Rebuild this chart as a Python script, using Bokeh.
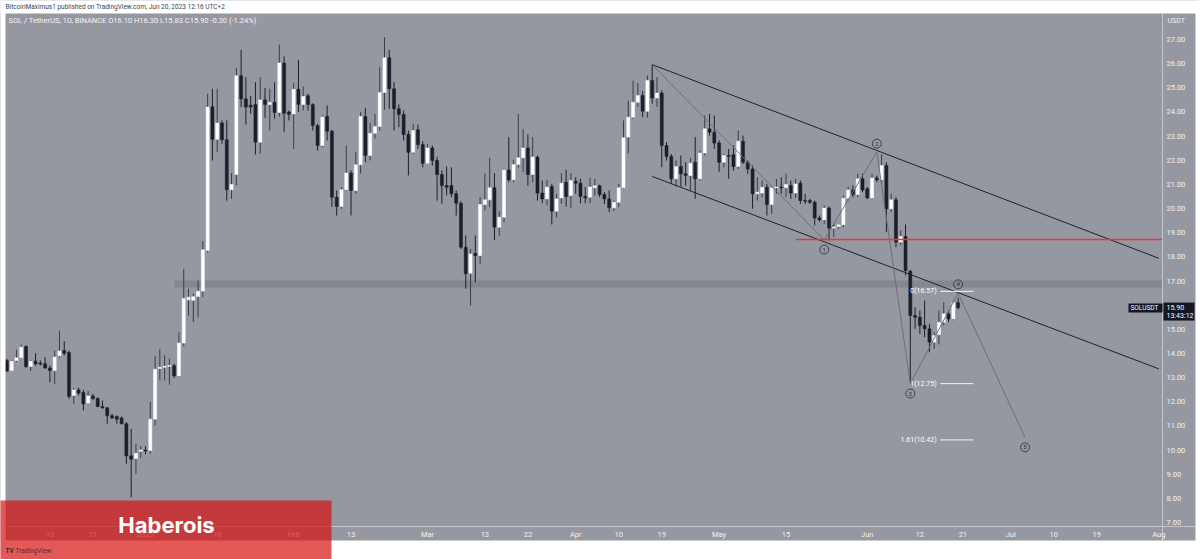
import pandas as pd
from bokeh.plotting import figure
from bokeh.models import ColumnDataSource, FixedTicker, NumeralTickFormatter, BoxAnnotation, Label, Range1d
from bokeh.core.properties import value
from bokeh.embed import file_html
from bokeh.resources import INLINE

# ---------------- data (SOL/USDT daily) ----------------
start_date = "2022-12-03"
opens = [13.71, 13.29, 13.71, 13.82, 14.29, 13.46, 13.68, 13.60, 13.57, 13.40,
         13.29, 13.90, 14.12, 14.04, 12.26, 12.49, 12.38, 11.94, 12.24, 12.13,
         11.80, 11.75, 11.42, 11.39, 11.33, 11.09, 9.76, 9.65, 9.95, 10.00,
         9.98, 11.28, 13.38, 13.43, 13.47, 13.49, 13.07, 14.43, 16.22, 16.20,
         16.36, 16.58, 18.26, 24.22, 22.87, 23.54, 22.85, 20.78, 21.41, 25.50,
         24.54, 24.28, 24.31, 22.75, 24.50, 24.31, 24.40, 23.98, 26.03, 24.00,
         23.92, 24.94, 24.31, 24.67, 24.31, 23.44, 22.61, 23.81, 23.20, 20.47,
         20.09, 20.78, 21.47, 20.75, 21.81, 23.81, 22.20, 23.12, 23.40, 24.81,
         26.24, 24.96, 24.13, 23.89, 23.07, 22.33, 23.26, 22.65, 21.88, 22.51,
         21.99, 21.41, 20.95, 20.95, 20.61, 20.22, 18.40, 17.32, 18.15, 18.05,
         20.17, 20.36, 20.86, 19.23, 19.64, 21.60, 21.19, 21.82, 22.10, 22.51,
         21.41, 22.13, 20.64, 20.40, 20.91, 19.89, 20.44, 21.09, 20.54, 21.13,
         21.05, 20.50, 20.47, 20.86, 20.94, 20.58, 20.40, 20.03, 20.26, 20.86,
         22.96, 23.78, 24.40, 24.68, 24.03, 25.30, 24.58, 24.78, 22.61, 22.16,
         21.23, 21.74, 21.44, 21.37, 21.92, 21.23, 22.30, 23.30, 23.16, 22.71,
         21.92, 22.20, 22.23, 21.74, 22.79, 21.92, 21.64, 20.61, 20.64, 20.88,
         20.17, 20.86, 20.89, 20.86, 20.95, 20.64, 21.05, 20.33, 20.33, 20.26,
         19.61, 19.53, 20.02, 19.19, 19.26, 19.33, 20.43, 20.77, 20.58, 21.23,
         20.82, 20.44, 21.27, 21.19, 21.78, 19.99, 20.36, 18.61, 18.84, 17.41,
         15.57, 15.50, 15.16, 15.02, 14.47, 14.78, 15.29, 15.64, 15.43, 16.10]
highs = [13.78, 13.74, 14.15, 14.37, 14.33, 13.74, 14.01, 13.71, 13.85, 13.50,
         14.12, 14.95, 14.51, 14.12, 12.58, 12.58, 12.49, 12.44, 12.33, 12.19,
         12.05, 11.78, 11.50, 11.43, 11.39, 11.16, 10.88, 10.26, 10.17, 10.15,
         11.99, 13.90, 14.19, 13.92, 13.78, 13.57, 14.88, 17.50, 16.68, 16.47,
         17.02, 18.65, 24.75, 24.96, 24.96, 23.65, 23.65, 21.47, 25.83, 26.57,
         25.44, 24.67, 25.23, 25.44, 25.00, 24.96, 25.23, 26.79, 26.30, 24.06,
         25.19, 26.16, 25.05, 24.75, 24.36, 23.51, 23.85, 24.27, 23.26, 20.75,
         20.89, 22.61, 21.58, 22.33, 23.99, 24.17, 23.54, 23.92, 25.85, 27.10,
         26.57, 25.23, 24.31, 24.06, 23.23, 23.51, 23.48, 22.79, 22.68, 22.61,
         22.15, 21.58, 21.74, 21.71, 20.75, 20.30, 18.88, 18.33, 18.88, 20.47,
         21.44, 22.10, 21.47, 19.89, 21.64, 22.96, 22.02, 23.92, 23.30, 23.07,
         22.96, 22.20, 21.16, 21.19, 21.02, 20.61, 21.47, 21.60, 21.47, 21.30,
         21.23, 20.89, 21.27, 21.23, 20.99, 20.68, 20.75, 20.33, 21.02, 23.65,
         24.47, 25.30, 25.20, 24.86, 25.51, 25.96, 25.44, 24.89, 22.75, 22.26,
         21.99, 22.20, 21.92, 22.10, 22.96, 22.40, 23.85, 23.92, 23.85, 22.82,
         22.26, 22.47, 22.61, 23.23, 23.02, 21.99, 21.78, 21.30, 21.16, 21.02,
         20.95, 21.23, 21.30, 21.44, 21.16, 21.23, 21.16, 20.61, 20.40, 20.33,
         19.71, 20.13, 20.09, 19.37, 19.37, 20.54, 20.91, 20.95, 21.44, 21.44,
         20.89, 21.44, 21.37, 22.24, 21.92, 20.61, 20.47, 19.09, 19.34, 17.45,
         15.91, 15.78, 16.19, 15.23, 14.88, 15.78, 16.12, 15.78, 16.19, 16.30]
lows = [13.23, 13.27, 13.64, 13.78, 13.40, 13.27, 13.50, 13.50, 13.36, 12.81,
        12.74, 13.82, 13.92, 12.12, 11.91, 12.26, 11.64, 11.89, 12.08, 11.78,
        11.71, 11.09, 11.28, 11.09, 11.06, 9.43, 8.05, 9.02, 9.68, 9.82,
        9.84, 11.02, 12.88, 12.88, 12.71, 12.99, 13.02, 14.30, 15.57, 15.30,
        15.50, 16.33, 18.19, 21.99, 22.34, 22.68, 20.33, 20.40, 20.96, 24.20,
        23.48, 23.92, 22.24, 22.27, 23.76, 23.23, 23.72, 23.81, 23.16, 23.65,
        22.47, 23.99, 24.06, 24.06, 23.23, 22.40, 22.54, 22.82, 20.06, 19.71,
        19.99, 20.75, 19.71, 20.61, 21.44, 21.92, 21.99, 22.89, 23.23, 24.09,
        24.13, 23.23, 23.37, 22.82, 21.37, 22.27, 22.47, 21.71, 21.85, 21.78,
        20.33, 20.20, 20.54, 20.47, 19.71, 18.33, 16.68, 15.98, 16.95, 17.71,
        19.92, 20.06, 18.70, 18.88, 19.44, 21.09, 21.09, 21.69, 21.51, 20.95,
        21.09, 20.33, 20.22, 20.13, 19.34, 19.64, 20.19, 20.08, 20.03, 20.61,
        20.22, 20.22, 20.22, 20.54, 20.47, 20.19, 19.85, 19.89, 20.06, 20.82,
        22.29, 23.71, 24.20, 23.78, 23.76, 24.34, 24.20, 21.71, 21.99, 21.02,
        20.91, 20.91, 20.95, 20.75, 20.40, 21.16, 22.20, 23.02, 22.47, 21.51,
        21.71, 21.23, 21.57, 21.64, 21.85, 21.44, 19.99, 20.33, 20.47, 19.71,
        19.78, 20.61, 20.61, 20.47, 20.40, 20.44, 20.19, 20.19, 20.19, 19.30,
        19.47, 19.37, 18.68, 18.82, 19.16, 19.23, 20.33, 20.47, 20.47, 20.68,
        20.40, 20.40, 21.09, 21.09, 19.02, 19.85, 18.40, 18.47, 17.23, 12.81,
        15.02, 14.81, 14.67, 14.05, 14.19, 14.37, 15.16, 15.30, 15.37, 15.83]
closes = [13.27, 13.68, 13.82, 14.26, 13.46, 13.68, 13.57, 13.56, 13.40, 13.29,
          13.85, 14.10, 14.01, 12.22, 12.49, 12.36, 11.91, 12.24, 12.13, 11.80,
          11.75, 11.42, 11.33, 11.28, 11.09, 9.76, 9.62, 9.87, 10.00, 9.96,
          11.28, 13.35, 13.43, 13.47, 13.50, 13.07, 14.43, 16.28, 16.33, 16.35,
          16.58, 18.29, 24.20, 22.87, 23.54, 22.85, 20.78, 21.00, 25.50, 24.54,
          24.20, 24.20, 22.75, 24.50, 24.31, 24.40, 23.98, 26.03, 23.95, 23.90,
          24.94, 24.31, 24.64, 24.31, 23.44, 22.61, 23.79, 23.20, 20.47, 20.09,
          20.78, 21.47, 20.75, 21.81, 23.81, 22.20, 23.12, 23.40, 24.81, 26.24,
          24.96, 24.13, 23.89, 23.07, 22.33, 23.23, 22.65, 21.88, 22.51, 21.99,
          21.41, 20.95, 20.88, 20.61, 20.22, 18.40, 17.30, 18.12, 18.05, 20.17,
          20.36, 20.86, 19.23, 19.64, 21.60, 21.19, 21.82, 22.10, 22.51, 21.41,
          22.13, 20.64, 20.40, 20.89, 19.89, 20.40, 21.05, 20.50, 21.16, 21.05,
          20.50, 20.44, 20.89, 20.94, 20.58, 20.40, 20.03, 20.26, 20.86, 22.93,
          23.78, 24.40, 24.68, 24.03, 25.30, 24.58, 24.78, 22.61, 22.16, 21.23,
          21.74, 21.44, 21.37, 21.88, 21.23, 22.30, 23.30, 23.16, 22.71, 21.92,
          22.20, 22.16, 21.74, 22.79, 21.92, 21.64, 20.61, 20.68, 20.88, 20.17,
          20.86, 20.89, 20.86, 21.00, 20.64, 21.02, 20.33, 20.30, 20.26, 19.61,
          19.53, 20.02, 19.19, 19.24, 19.33, 20.43, 20.77, 20.58, 21.23, 20.77,
          20.44, 21.26, 21.19, 21.78, 19.99, 20.36, 18.61, 18.84, 17.43, 15.57,
          15.50, 15.16, 15.02, 14.47, 14.74, 15.29, 15.64, 15.43, 16.10, 15.90]

x_tick_dates = ["2022-12-12", "2022-12-21", "2023-01-01", "2023-01-16", "2023-02-01",
                "2023-02-13", "2023-03-01", "2023-03-13", "2023-03-22", "2023-04-01",
                "2023-04-10", "2023-04-19", "2023-05-01", "2023-05-15", "2023-06-01",
                "2023-06-12", "2023-06-21", "2023-07-01", "2023-07-10", "2023-07-19",
                "2023-08-01"]
x_tick_labels = ["12", "21", "2023", "16", "Feb", "13", "Mar", "13", "22", "Apr",
                 "10", "19", "May", "15", "Jun", "12", "21", "Jul", "10", "19", "Aug"]
price_ticks = [7, 8, 9, 10, 11, 12, 13, 14, 15, 16, 17, 18, 19, 20, 21, 22, 23, 24, 25, 26, 27]

# drawing annotations (Elliott wave, channel, levels)
wave_dates = ["2023-04-17", "2023-05-23", "2023-06-03", "2023-06-10", "2023-06-20", "2023-07-04"]
wave_prices = [25.96, 18.70, 22.35, 12.75, 16.50, 10.52]
wave_labels = ["1", "2", "3", "4", "5"]
wave_label_prices = [18.30, 22.69, 12.34, 16.86, 10.11]
channel_dates = ["2023-04-17", "2023-08-01"]
channel_upper = [25.96, 17.94]
channel_lower = [21.33, 13.36]
resistance_price = 18.72
resistance_from = "2023-05-17"
zone_low, zone_high = 16.73, 17.02
zone_from = "2023-01-07"
fib_prices = [16.57, 12.75, 10.42]
fib_labels = ["0(16.57)", "1(12.75)", "1.61(10.42)"]
fib_from, fib_to = "2023-06-16", "2023-06-23"

# ---------------- layout helpers ----------------
EPOCH = pd.Timestamp("2023-01-01")
def day(d):
    return (pd.Timestamp(d) - EPOCH).days

W, H = 1200, 559
DAY_PX, PRICE_PX = 4.78, 24.15
X0 = -145 / DAY_PX                  # canvas x=0  (days since 2023-01-01)
X1 = X0 + W / DAY_PX
Y1 = 27 + 39 / PRICE_PX             # canvas y=0
Y0 = Y1 - H / PRICE_PX
def ix(pix):                        # canvas px -> data
    return X0 + pix / DAY_PX
def iy(pix):
    return Y1 - pix / PRICE_PX

PANE_R, PANE_B = 1162, 526          # edges of the price pane
XE = ix(PANE_R)

dates = pd.date_range(start_date, periods=len(opens), freq="D")
days = [(d - EPOCH).days for d in dates]
inc = [c >= o for o, c in zip(opens, closes)]
src = ColumnDataSource(dict(
    x=days, o=opens, h=highs, l=lows, c=closes,
    top=[max(o, c) for o, c in zip(opens, closes)],
    bottom=[min(o, c) for o, c in zip(opens, closes)],
    body=["#ffffff" if u else "#1c1f2a" for u in inc],
    wick=["#3a3d47" if u else "#1c1f2a" for u in inc],
))

BG = "#9598a1"
p = figure(width=W, height=H, x_range=Range1d(X0, X1), y_range=Range1d(Y0, Y1),
           y_axis_location="right", output_backend="svg", toolbar_location=None,
           min_border=0, background_fill_color=BG, border_fill_color=BG, outline_line_color=None)
p.grid.visible = False

# axes drawn at fixed locations (the pane edges)
ax = p.xaxis[0]
tick_days = [day(d) for d in x_tick_dates]
ax.ticker = FixedTicker(ticks=tick_days)
ax.major_label_overrides = {t: l for t, l in zip(tick_days, x_tick_labels)}
ax.fixed_location = iy(PANE_B)
ay = p.yaxis[0]
ay.ticker = FixedTicker(ticks=price_ticks)
ay.formatter = NumeralTickFormatter(format="0.00")
ay.fixed_location = XE
for a in (ax, ay):
    a.major_tick_line_color = None
    a.minor_tick_line_color = None
    a.major_tick_in = 0
    a.major_tick_out = 0
    a.axis_line_color = None
    a.major_label_text_color = "#f2f2f2"
    a.major_label_text_font = "Roboto"
    a.major_label_text_font_size = "7.5px"
ax.major_label_standoff = 3
ay.major_label_standoff = 4

# support zone
p.quad(left=day(zone_from), right=XE, bottom=zone_low, top=zone_high,
       fill_color="#50535e", fill_alpha=0.25, line_color=None)

# candles
p.segment(x0="x", y0="l", x1="x", y1="h", source=src, line_color="wick", line_width=1)
p.vbar(x="x", width=0.64, top="top", bottom="bottom", source=src,
       fill_color="body", line_color="body", line_width=0.5)

# channel
cx = [day(d) for d in channel_dates]
p.line(cx, channel_upper, line_color="#1e222d", line_width=1)
p.line(cx, channel_lower, line_color="#1e222d", line_width=1)

# resistance
p.segment(x0=[day(resistance_from)], y0=[resistance_price], x1=[XE], y1=[resistance_price],
          line_color="#f2303a", line_width=1.5)

# wave path
wx = [day(d) for d in wave_dates]
p.line(wx, wave_prices, line_color="#6c6f79", line_width=1)
p.scatter(wx[1:], wave_label_prices, marker="circle", size=9, fill_color=None,
          line_color="#3c3f49", line_width=1)
p.text(wx[1:], wave_label_prices, text=wave_labels, text_align="center", text_baseline="middle",
       text_font_size="6px", text_color="#2a2d36", text_font=value("Roboto"))

# fib levels
fx0, fx1 = day(fib_from) + 0.3, day(fib_to) + 0.2
p.segment(x0=[fx0] * 3, y0=fib_prices, x1=[fx1] * 3, y1=fib_prices, line_color="#f4f4f4", line_width=1)
p.text([fx0 - 0.8] * 3, fib_prices, text=fib_labels, text_align="right", text_baseline="middle",
       text_font_size="7px", text_color="#ffffff", text_font=value("Roboto"))

# pane separators
p.segment(x0=[XE, ix(5)], y0=[iy(13), iy(PANE_B)], x1=[XE, ix(1195)], y1=[iy(540), iy(PANE_B)],
          line_color="#c4c6cc", line_width=1)

# white page around the chart
def box(l, r, t, b, color, alpha=1.0):
    p.add_layout(BoxAnnotation(left=ix(l), right=ix(r), top=iy(t), bottom=iy(b),
                               fill_color=color, fill_alpha=alpha, line_color=None))
box(-2, W + 2, -2, 13, "white")
box(-2, 5, -2, H + 2, "white")
box(1195, W + 2, -2, H + 2, "white")
box(-2, W + 2, 540, H + 2, "white")

def label(x, y, text, size, color, **kw):
    p.add_layout(Label(x=ix(x), y=iy(y), text=text, text_font_size=size, text_color=color,
                       text_font=kw.pop("font", "Roboto"), **kw))

label(5, 6.5, "BitcoinMaximus1 published on TradingView.com, Jun 20, 2023 12:16 UTC+2",
      "6.5px", "#3c3f4a", text_baseline="middle")
last = closes[-1]
chg = last - closes[-2]
label(8, 20, "SOL / TetherUS, 1D, BINANCE  O%.2f  H%.2f  L%.2f  C%.2f  %+.2f (%+.2f%%)" % (
      opens[-1], highs[-1], lows[-1], last, chg, chg / closes[-2] * 100),
      "7.5px", "#f4f4f4", text_baseline="middle")
label(1167, 20, "USDT", "7px", "#f2f2f2", text_baseline="middle")

# last price markers
p.add_layout(BoxAnnotation(left=ix(1128), right=XE, top=last + 4 / PRICE_PX, bottom=last - 5 / PRICE_PX,
                           fill_color="#131722", fill_alpha=1, line_color=None))
p.add_layout(Label(x=ix(1130), y=last, text="SOLUSDT", text_font_size="6.5px", text_color="#ffffff",
                   text_baseline="middle", text_font="Roboto"))
p.add_layout(BoxAnnotation(left=ix(PANE_R + 1), right=ix(1194), top=last + 5 / PRICE_PX,
                           bottom=last - 13 / PRICE_PX, fill_color="#131722", fill_alpha=1, line_color=None))
p.add_layout(Label(x=ix(1166), y=last, text="%.2f" % last, text_font_size="7px", text_color="#ffffff",
                   text_baseline="middle", text_font="Roboto"))
p.add_layout(Label(x=ix(1166), y=last - 8 / PRICE_PX, text="13:43:12", text_font_size="7px",
                   text_color="#ffffff", text_baseline="middle", text_font="Roboto"))

# watermark
box(-2, 331, 500, H + 2, "#d81211", 0.7)
label(166, 524.5, "Haberois", "22px", "#ffffff", text_align="center", text_baseline="middle",
      text_font_style="bold", font="Inter")
label(5, 550, "TV", "6.5px", "#4a2326", text_baseline="middle", text_font_style="bold")
label(15, 550, "TradingView", "6.5px", "#5a2a2e", text_baseline="middle")

open("out.html", "w").write(file_html(p, INLINE))
